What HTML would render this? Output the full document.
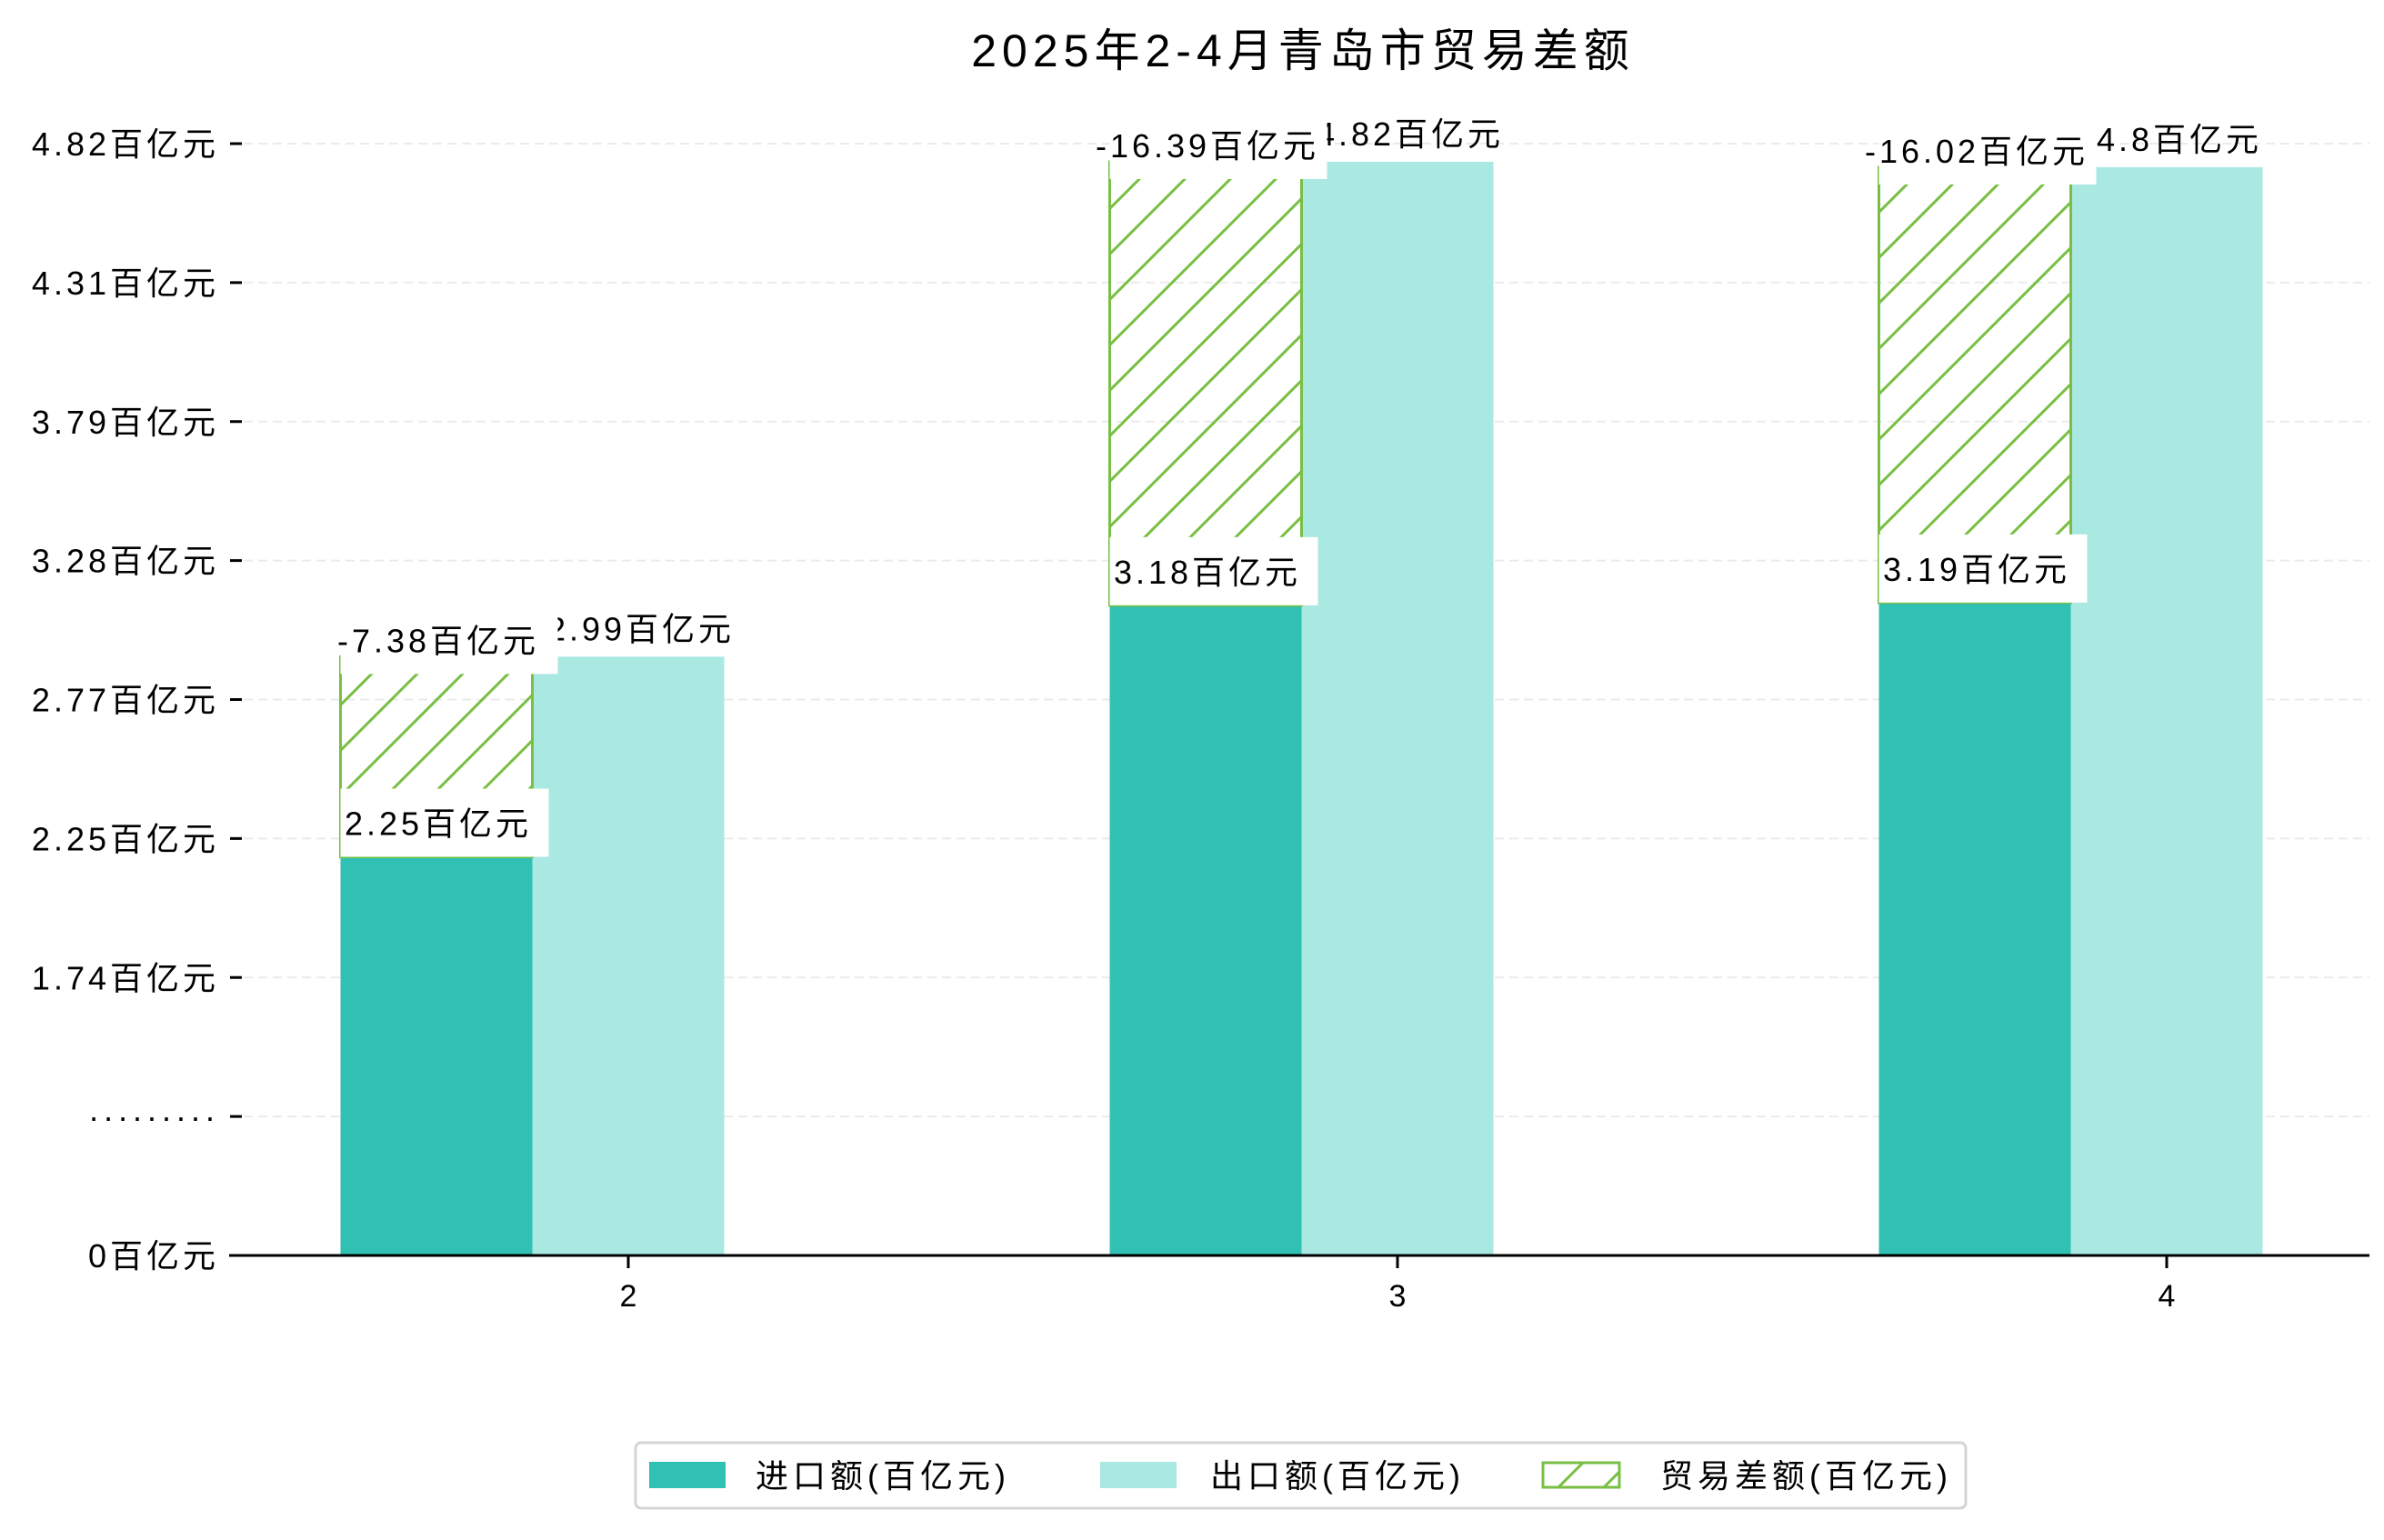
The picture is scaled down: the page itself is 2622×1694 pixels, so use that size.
<!DOCTYPE html>
<html><head><meta charset="utf-8">
<style>
html,body{margin:0;padding:0;background:#fff;}
svg text{font-family:"Liberation Sans","Noto Sans CJK SC",sans-serif;}
</style></head>
<body>
<svg id="chart" width="2622" height="1689" viewBox="0 0 2622 1689" xmlns="http://www.w3.org/2000/svg">
<defs>
<pattern id="hatch" patternUnits="userSpaceOnUse" width="50" height="50">
<line x1="-10" y1="60" x2="60" y2="-10" stroke="#78bf44" stroke-width="3"/>
<line x1="-60" y1="60" x2="10" y2="-10" stroke="#78bf44" stroke-width="3"/>
<line x1="40" y1="60" x2="110" y2="-10" stroke="#78bf44" stroke-width="3"/>
</pattern>
</defs>
<text x="1433" y="73" font-size="50" letter-spacing="6" text-anchor="middle" fill="#000">2025年2-4月青岛市贸易差额</text>
<g id="grid"></g>
<g id="bars"></g>
<g id="labels"></g>
<g id="axes"></g>
<g>
<rect x="699" y="1587" width="1463" height="72" rx="6" fill="#fff" stroke="#d4d4d4" stroke-width="3"/>
<rect x="714" y="1608" width="84" height="29" fill="#31c1b4"/>
<text x="831" y="1636" font-size="36" letter-spacing="5">进口额(百亿元)</text>
<rect x="1210" y="1608" width="84" height="29" fill="#aae8e2"/>
<text x="1331" y="1636" font-size="36" letter-spacing="5">出口额(百亿元)</text>
<rect x="1697" y="1609" width="84" height="27" fill="url(#hatch)" stroke="#78bf44" stroke-width="3"/>
<text x="1826" y="1636" font-size="36" letter-spacing="5">贸易差额(百亿元)</text>
</g>
</svg>
<script>
const months = ['2', '3', '4'];
const importVals = [2.25, 3.18, 3.19];
const exportVals = [2.99, 4.82, 4.80];
const balanceVals = [-7.38, -16.39, -16.02];
const importLabels = ['2.25百亿元', '3.18百亿元', '3.19百亿元'];
const exportLabels = ['2.99百亿元', '4.82百亿元', '4.8百亿元'];
const balanceLabels = ['-7.38百亿元', '-16.39百亿元', '-16.02百亿元'];
const yTickLabels = ['0百亿元', '·········', '1.74百亿元', '2.25百亿元', '2.77百亿元', '3.28百亿元', '3.79百亿元', '4.31百亿元', '4.82百亿元'];

const NS = 'http://www.w3.org/2000/svg';
const baseY = 1381, topY = 158;
const vMin = 0.776, vMax = 4.887;
function yScale(v){ return baseY - (v - vMin) / (vMax - vMin) * (baseY - topY); }
function xCenter(i){ return 691 + 846 * i; }
const bw = 211;
function mk(tag, attrs, parent){ const e = document.createElementNS(NS, tag); for (const k in attrs) e.setAttribute(k, attrs[k]); parent.appendChild(e); return e; }

const gridG = document.getElementById('grid');
const axesG = document.getElementById('axes');
const barsG = document.getElementById('bars');
const labelsG = document.getElementById('labels');

yTickLabels.forEach((t, i) => {
  const y = baseY - i * (baseY - topY) / (yTickLabels.length - 1);
  if (i > 0) {
    const g = mk('line', {x1: 268, x2: 2606, y1: y, y2: y, stroke: '#ebebeb', 'stroke-width': 2, 'stroke-dasharray': '10,6'}, gridG);
    
    
  }
  const tk = mk('line', {x1: 253, x2: 266, y1: y, y2: y, stroke: '#000', 'stroke-width': 3}, axesG);
  
  
  const tx = mk('text', {x: 241, y: y + 13, 'font-size': 36, 'letter-spacing': 4, 'text-anchor': 'end'}, axesG);
  tx.textContent = t;
  
  
});
const xl = mk('line', {x1: 252, x2: 2606, y1: baseY, y2: baseY, stroke: '#000', 'stroke-width': 3}, axesG);



months.forEach((m, i) => {
  const c = xCenter(i);
  const tk = mk('line', {x1: c, x2: c, y1: baseY, y2: baseY + 14, stroke: '#000', 'stroke-width': 3}, axesG);
  
  
  const tx = mk('text', {x: c, y: baseY + 56, 'font-size': 34, 'text-anchor': 'middle'}, axesG);
  tx.textContent = m;
  
  

  const ix = c - 1.5 * bw, ex = c - 0.5 * bw;
  const yi = yScale(importVals[i]), ye = yScale(exportVals[i]);
  const bi = mk('rect', {x: ix, y: yi, width: bw, height: baseY - yi, fill: '#31c1b4'}, barsG);
  
  
  const be = mk('rect', {x: ex, y: ye, width: bw, height: baseY - ye, fill: '#aae8e2'}, barsG);
  
  
  const hb = mk('rect', {x: ix, y: ye, width: bw, height: yi - ye, fill: 'url(#hatch)', stroke: '#78bf44', 'stroke-width': 3}, barsG);
  
  

  const el = mk('text', {x: c + 14, y: ye - 18, 'font-size': 36, 'letter-spacing': 4, 'text-anchor': 'middle'}, labelsG);
  el.textContent = exportLabels[i];
  
  

  const bTop = ye + 19;
  const bbx = mk('rect', {x: ix, y: bTop - 75, width: bw + 28, height: 75, fill: '#fff'}, labelsG);
  
  
  const bl = mk('text', {x: ix + bw / 2 + 2, y: bTop - 24, 'font-size': 36, 'letter-spacing': 4, 'text-anchor': 'middle'}, labelsG);
  bl.textContent = balanceLabels[i];
  
  

  const ibx = mk('rect', {x: ix, y: yi - 75, width: bw + 18, height: 75, fill: '#fff'}, labelsG);
  
  
  const il = mk('text', {x: ix + bw / 2 + 2, y: yi - 24, 'font-size': 36, 'letter-spacing': 4, 'text-anchor': 'middle'}, labelsG);
  il.textContent = importLabels[i];
  
  
});
</script>
</body></html>
